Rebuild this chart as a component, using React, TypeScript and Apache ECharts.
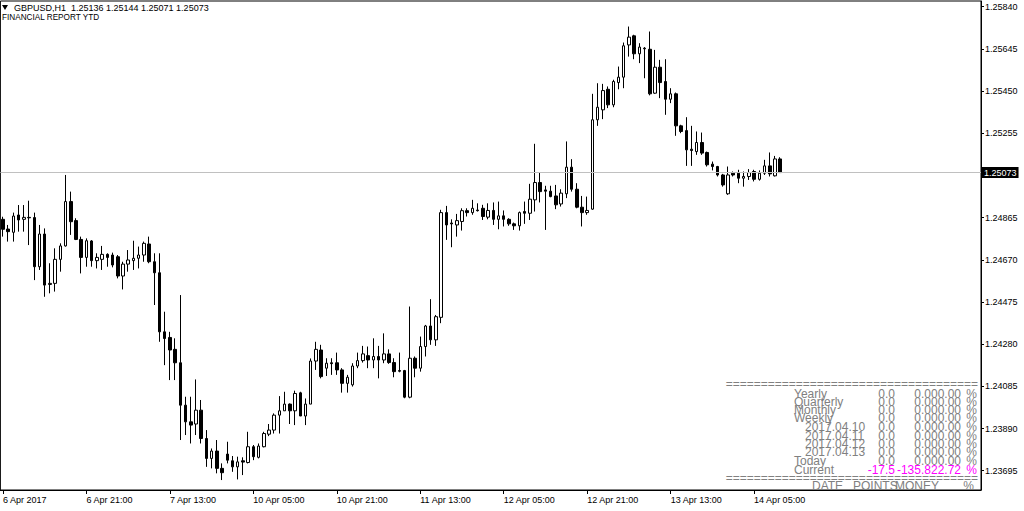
import React, { useEffect, useRef } from "react";
import * as echarts from "echarts";

// ---- categories (hourly bars, H1) ----
const dayRanges: [string, number, number][] = [
  ["6 Apr", 5, 23],
  ["7 Apr", 0, 23],
  ["10 Apr", 0, 23],
  ["11 Apr", 0, 23],
  ["12 Apr", 0, 23],
  ["13 Apr", 0, 23],
  ["14 Apr", 0, 10],
];
const TOTAL_SLOTS = 188; // includes empty right-hand shift area
const categories: string[] = [];
for (const [d, h0, h1] of dayRanges) {
  for (let h = h0; h <= h1; h++) categories.push(`${d} ${String(h).padStart(2, "0")}:00`);
}
while (categories.length < TOTAL_SLOTS) categories.push("");

const xTickLabels = [
  "6 Apr 2017", "6 Apr 21:00", "7 Apr 13:00", "10 Apr 05:00", "10 Apr 21:00",
  "11 Apr 13:00", "12 Apr 05:00", "12 Apr 21:00", "13 Apr 13:00", "14 Apr 05:00",
];
const X_TICK_STEP = 16;

const yTickValues = [
  1.23695, 1.2389, 1.24085, 1.2428, 1.24475, 1.2467, 1.24865, 1.25255, 1.2545, 1.25645, 1.2584,
];

const Y_MIN = 1.23606;
const Y_MAX = 1.25866;
const CURRENT_PRICE = 1.25073;

// ---- OHLC ----
const opens = [
  1.24857, 1.24812, 1.24797, 1.24877, 1.24857, 1.24866, 1.24865, 1.24638, 1.24789, 1.24556,
  1.24561, 1.24672, 1.24734, 1.24939, 1.24851, 1.24764, 1.24681, 1.24757, 1.24666, 1.24672,
  1.24695, 1.24692, 1.24684, 1.24595, 1.2465, 1.24666, 1.24677, 1.24692, 1.24743, 1.24661,
  1.2461, 1.24337, 1.24311, 1.24256, 1.24194, 1.23998, 1.23921, 1.23911, 1.23975, 1.23844,
  1.23752, 1.23786, 1.23706, 1.23772, 1.23741, 1.23713, 1.23741, 1.23733, 1.23806, 1.23757,
  1.23806, 1.23864, 1.23883, 1.23952, 1.23972, 1.24003, 1.23972, 1.24055, 1.23948, 1.24003,
  1.24202, 1.24253, 1.24169, 1.24194, 1.24194, 1.24161, 1.24099, 1.24092, 1.24179, 1.24204,
  1.24227, 1.24207, 1.24223, 1.24207, 1.24235, 1.24195, 1.24158, 1.24158, 1.24035, 1.24215,
  1.24169, 1.24269, 1.24364, 1.243, 1.24404, 1.24888, 1.2484, 1.24831, 1.24847, 1.24897,
  1.24888, 1.249, 1.24908, 1.24867, 1.24898, 1.24857, 1.24873, 1.24857, 1.24836, 1.24827,
  1.24893, 1.24885, 1.24947, 1.25027, 1.24993, 1.24987, 1.24965, 1.24928, 1.24975, 1.25098,
  1.24996, 1.24913, 1.24888, 1.24904, 1.25317, 1.25363, 1.25458, 1.25386, 1.25489, 1.25514,
  1.25663, 1.25705, 1.25622, 1.25648, 1.25643, 1.2544, 1.2556, 1.25494, 1.25412, 1.25437,
  1.25289, 1.25267, 1.25181, 1.2517, 1.25212, 1.25166, 1.25112, 1.25101, 1.25062, 1.24975,
  1.2507, 1.2507, 1.25047, 1.25055, 1.25078, 1.25042, 1.2507, 1.25104, 1.25058, 1.25136,
];
const highs = [
  1.24869, 1.24831, 1.24888, 1.24923, 1.24923, 1.24943, 1.24888, 1.24831, 1.24815, 1.24654,
  1.24723, 1.24746, 1.25062, 1.24985, 1.24862, 1.24777, 1.24769, 1.24761, 1.247, 1.24734,
  1.247, 1.24703, 1.24692, 1.24661, 1.24715, 1.24758, 1.24731, 1.24754, 1.24777, 1.247,
  1.247, 1.2443, 1.24337, 1.24307, 1.24507, 1.24037, 1.24037, 1.24117, 1.24022, 1.23883,
  1.23798, 1.23837, 1.23729, 1.23829, 1.23763, 1.2376, 1.23757, 1.23875, 1.23814, 1.23821,
  1.23875, 1.23911, 1.2396, 1.2404, 1.2406, 1.24006, 1.24065, 1.2406, 1.24029, 1.24214,
  1.24291, 1.24277, 1.24215, 1.24215, 1.24241, 1.24169, 1.24138, 1.24192, 1.24241, 1.24272,
  1.24269, 1.24307, 1.24272, 1.2433, 1.24256, 1.24215, 1.24241, 1.24161, 1.24454, 1.24223,
  1.24315, 1.24369, 1.24488, 1.24415, 1.24901, 1.24919, 1.24857, 1.24882, 1.24908, 1.24908,
  1.24947, 1.24931, 1.24924, 1.24931, 1.24935, 1.24939, 1.24898, 1.24862, 1.24842, 1.24893,
  1.24939, 1.25021, 1.25206, 1.25073, 1.25012, 1.25012, 1.25016, 1.24996, 1.25217, 1.25135,
  1.25024, 1.24965, 1.24962, 1.25437, 1.25486, 1.25483, 1.25471, 1.25502, 1.25563, 1.25674,
  1.25748, 1.2571, 1.25671, 1.25653, 1.25725, 1.2564, 1.25594, 1.25597, 1.25463, 1.25443,
  1.25294, 1.25329, 1.25289, 1.25263, 1.25258, 1.2517, 1.25124, 1.25104, 1.25067, 1.25101,
  1.25078, 1.25086, 1.25078, 1.25089, 1.25086, 1.25083, 1.25132, 1.25166, 1.2515, 1.25144,
];
const lows = [
  1.24777, 1.24754, 1.24754, 1.248, 1.248, 1.24738, 1.24576, 1.24623, 1.24499, 1.24515,
  1.24523, 1.24615, 1.24731, 1.24785, 1.24761, 1.24607, 1.24638, 1.24638, 1.2463, 1.24623,
  1.24638, 1.24635, 1.24584, 1.24533, 1.24615, 1.24623, 1.2463, 1.24661, 1.24654, 1.24461,
  1.24291, 1.24183, 1.24114, 1.24114, 1.23837, 1.2386, 1.23821, 1.2386, 1.23821, 1.23713,
  1.23706, 1.23683, 1.23652, 1.23729, 1.2369, 1.23655, 1.23675, 1.23729, 1.23744, 1.23752,
  1.23803, 1.23855, 1.23867, 1.23867, 1.23972, 1.23911, 1.23906, 1.23948, 1.23906, 1.24003,
  1.24161, 1.24122, 1.24133, 1.24138, 1.24138, 1.24056, 1.24056, 1.24084, 1.24169, 1.24195,
  1.24169, 1.24169, 1.24122, 1.24192, 1.24189, 1.24127, 1.2415, 1.2403, 1.2403, 1.24127,
  1.24153, 1.24223, 1.24277, 1.24272, 1.24377, 1.24762, 1.24728, 1.24777, 1.24805, 1.2487,
  1.24878, 1.24893, 1.24854, 1.24857, 1.24831, 1.24811, 1.24824, 1.24827, 1.24808, 1.24805,
  1.24836, 1.24854, 1.24893, 1.24935, 1.24808, 1.24959, 1.24904, 1.24916, 1.24955, 1.24985,
  1.24908, 1.24824, 1.24878, 1.24901, 1.25289, 1.2532, 1.25371, 1.25375, 1.25458, 1.25463,
  1.25609, 1.25597, 1.25579, 1.25509, 1.2543, 1.25437, 1.25417, 1.2534, 1.25394, 1.25243,
  1.25255, 1.25104, 1.25104, 1.25155, 1.25155, 1.25101, 1.25083, 1.25055, 1.25008, 1.2497,
  1.25055, 1.25024, 1.25008, 1.25039, 1.25032, 1.25036, 1.25062, 1.25055, 1.25055, 1.25071,
];
const closes = [
  1.24811, 1.248, 1.24872, 1.24854, 1.24866, 1.24864, 1.24638, 1.24789, 1.24553, 1.24561,
  1.24672, 1.24734, 1.24939, 1.24846, 1.24764, 1.24681, 1.24758, 1.24666, 1.24681, 1.24695,
  1.24681, 1.24646, 1.24595, 1.2465, 1.24669, 1.24677, 1.24692, 1.24746, 1.24661, 1.2461,
  1.24337, 1.24306, 1.24253, 1.24194, 1.23998, 1.23921, 1.23906, 1.23975, 1.23844, 1.23752,
  1.23786, 1.23706, 1.23686, 1.23744, 1.23713, 1.23736, 1.23735, 1.23806, 1.2376, 1.23809,
  1.23867, 1.23883, 1.23952, 1.23972, 1.24003, 1.23972, 1.24052, 1.23948, 1.24003, 1.24202,
  1.24256, 1.2413, 1.24192, 1.2419, 1.24161, 1.24099, 1.24127, 1.24179, 1.24204, 1.24235,
  1.24207, 1.24223, 1.24207, 1.24235, 1.24195, 1.24153, 1.24155, 1.24035, 1.24215, 1.24169,
  1.24269, 1.24364, 1.243, 1.24407, 1.24888, 1.24831, 1.24836, 1.24851, 1.24897, 1.24888,
  1.24908, 1.24897, 1.2487, 1.24898, 1.24857, 1.24873, 1.24857, 1.24836, 1.24827, 1.24888,
  1.24885, 1.2495, 1.25027, 1.24985, 1.24987, 1.24962, 1.24924, 1.24978, 1.25098, 1.24996,
  1.24913, 1.24888, 1.24898, 1.25317, 1.25375, 1.25452, 1.25386, 1.25494, 1.25514, 1.25659,
  1.25699, 1.25622, 1.25653, 1.25645, 1.25437, 1.2556, 1.25489, 1.25412, 1.25437, 1.25289,
  1.25263, 1.25178, 1.25175, 1.25212, 1.25163, 1.25109, 1.25101, 1.25062, 1.25016, 1.25062,
  1.25062, 1.25047, 1.25055, 1.25073, 1.25042, 1.2507, 1.25104, 1.25067, 1.25136, 1.25073,
];

// ---- report table texts ----
const reportLabels = ["Yearly", "Quarterly", "Monthly", "Weekly", "2017.04.10", "2017.04.11", "2017.04.12", "2017.04.13", "Today", "Current"];
const reportPoints = ["0.0", "0.0", "0.0", "0.0", "0.0", "0.0", "0.0", "0.0", "0.0", "-17.5"];
const reportMoney = ["0.000.00", "0.000.00", "0.000.00", "0.000.00", "0.000.00", "0.000.00", "0.000.00", "0.000.00", "0.000.00", "-135.822.72"];
const headerLine1 = "GBPUSD,H1  1.25136 1.25144 1.25071 1.25073";
const headerLine2 = "FINANCIAL REPORT YTD";

const FONT = "'Liberation Sans', Arial, Helvetica, sans-serif";

export default function App() {
  const ref = useRef<HTMLDivElement>(null);
  useEffect(() => {
    if (!ref.current) return;
    const chart = echarts.init(ref.current, null, { renderer: "svg" });
    const candleData = opens.map((o, i) => [o, closes[i], lows[i], highs[i]]);

    const gray = "#808080";
    const magenta = "#ff00ff";
    const rowY = [393.5, 401.5, 409.5, 417.5, 427, 435.5, 444, 452, 461, 469.5];
    const tableTexts: any[] = [];
    reportLabels.forEach((lab, i) => {
      const isDate = /^\d/.test(lab);
      const col = i === reportLabels.length - 1 ? magenta : gray;
      tableTexts.push({
        type: "text", x: isDate ? 805 : 794, y: rowY[i],
        style: { text: lab, fill: gray, font: `12px ${FONT}`, verticalAlign: "middle", align: "left" },
      });
      tableTexts.push({
        type: "text", x: 895, y: rowY[i],
        style: { text: reportPoints[i], fill: col, font: `12px ${FONT}`, verticalAlign: "middle", align: "right" },
      });
      tableTexts.push({
        type: "text", x: 961, y: rowY[i],
        style: { text: reportMoney[i], fill: col, font: `12px ${FONT}`, verticalAlign: "middle", align: "right" },
      });
      tableTexts.push({
        type: "text", x: 977, y: rowY[i],
        style: { text: "%", fill: col, font: `12px ${FONT}`, verticalAlign: "middle", align: "right" },
      });
    });
    const eqLine = "=".repeat(36);

    chart.setOption({
      animation: false,
      backgroundColor: "#ffffff",
      grid: { left: 0, right: 43, top: 1, bottom: 21, show: true, borderColor: "#000", borderWidth: 1 },
      xAxis: {
        type: "category",
        data: categories,
        boundaryGap: true,
        axisLine: { show: true, lineStyle: { color: "#000", width: 1 } },
        axisTick: {
          show: true,
          alignWithLabel: true,
          length: 4,
          interval: (idx: number) => idx % X_TICK_STEP === 0 && idx < opens.length,
          lineStyle: { color: "#000" },
        },
        axisLabel: {
          show: true,
          interval: (idx: number) => idx % X_TICK_STEP === 0 && idx < opens.length,
          formatter: (_v: string, idx: number) => xTickLabels[Math.round(idx / X_TICK_STEP)] ?? "",
          align: "left",
          margin: 5,
          fontSize: 9,
          fontFamily: FONT,
          color: "#000",
        },
        splitLine: { show: false },
      },
      yAxis: {
        type: "value",
        position: "right",
        min: Y_MIN,
        max: Y_MAX,
        scale: true,
        axisLine: { show: true, lineStyle: { color: "#000", width: 1 } },
        axisTick: { show: true, length: 3, customValues: yTickValues, lineStyle: { color: "#000" } },
        axisLabel: {
          show: true,
          customValues: yTickValues,
          formatter: (v: number) => v.toFixed(5),
          margin: 4,
          fontSize: 9,
          fontFamily: FONT,
          color: "#000",
        },
        splitLine: { show: false },
      },
      series: [
        {
          type: "candlestick",
          data: candleData,
          barWidth: 3,
          itemStyle: {
            color: "#ffffff",
            color0: "#000000",
            borderColor: "#000000",
            borderColor0: "#000000",
            borderWidth: 1,
          },
          markLine: {
            silent: true,
            precision: 5,
            symbol: ["none", "none"],
            data: [{ yAxis: CURRENT_PRICE }],
            lineStyle: { color: "#c0c0c0", width: 1, type: "solid" },
            label: {
              show: true,
              position: "end",
              formatter: CURRENT_PRICE.toFixed(5),
              backgroundColor: "#000",
              color: "#fff",
              fontSize: 9,
              fontFamily: FONT,
              padding: [1, 2, 1, 2],
              distance: 1,
            },
          },
        },
      ],
      graphic: [
        { type: "polygon", shape: { points: [[2, 5], [8, 5], [5, 10]] }, style: { fill: "#000" } },
        { type: "text", x: 14, y: 8, style: { text: headerLine1, fill: "#000", font: `9px ${FONT}`, verticalAlign: "middle" } },
        { type: "text", x: 2, y: 17, style: { text: headerLine2, fill: "#000", font: `8.2px ${FONT}`, verticalAlign: "middle" } },
        { type: "text", x: 978, y: 384, style: { text: eqLine, fill: gray, font: `12px ${FONT}`, verticalAlign: "middle", align: "right" } },
        ...tableTexts,
        { type: "text", x: 978, y: 478, style: { text: eqLine, fill: gray, font: `12px ${FONT}`, verticalAlign: "middle", align: "right" } },
        { type: "text", x: 812, y: 486, style: { text: "DATE", fill: gray, font: `12px ${FONT}`, verticalAlign: "middle" } },
        { type: "text", x: 853, y: 486, style: { text: "POINTS", fill: gray, font: `12px ${FONT}`, verticalAlign: "middle" } },
        { type: "text", x: 895, y: 486, style: { text: "MONEY", fill: gray, font: `12px ${FONT}`, verticalAlign: "middle" } },
        { type: "text", x: 974, y: 486, style: { text: "%", fill: gray, font: `12px ${FONT}`, verticalAlign: "middle", align: "right" } },
      ],
    });
    return () => chart.dispose();
  }, []);

  return (
    <div
      ref={ref}
      style={{ position: "fixed", left: 0, top: 0, width: 1024, height: 511, background: "#fff" }}
    />
  );
}
